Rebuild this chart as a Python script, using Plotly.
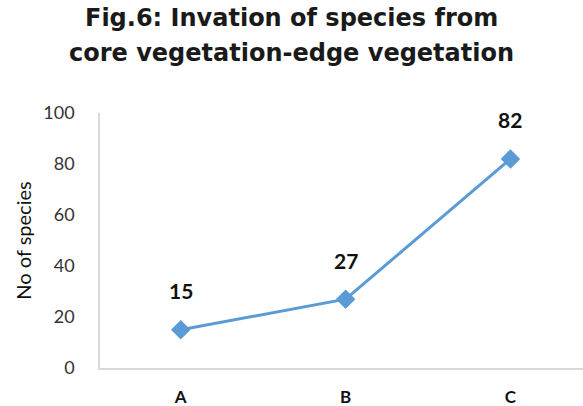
import plotly.graph_objects as go

categories = ["A", "B", "C"]
species = [15, 27, 82]
y_ticks = [0, 20, 40, 60, 80, 100]
title_line1 = "Fig.6: Invation of species from"
title_line2 = "core vegetation-edge vegetation"
y_title = "No of species"

blue = "#5B9BD5"

fig = go.Figure()
fig.add_trace(go.Scatter(
    x=categories, y=species, mode="lines+markers",
    line=dict(color=blue, width=3),
    marker=dict(symbol="diamond", size=15, color=blue),
    showlegend=False, cliponaxis=False,
))

for c, v in zip(categories, species):
    fig.add_annotation(x=c, y=v, text=str(v), showarrow=False, yshift=39,
                       font=dict(family="Lato", size=21, color="#111111", weight="bold"))

PLOT_TOP, PLOT_BOT = 113, 368
H = PLOT_BOT - PLOT_TOP
def py(pix):
    return (PLOT_BOT - pix) / H

fig.add_annotation(xref="paper", yref="paper", x=0.396, y=py(18), text=title_line1,
                   showarrow=False, xanchor="center", yanchor="middle",
                   font=dict(family="DejaVu Sans", size=24, color="#1a1a1a", weight="bold"))
fig.add_annotation(xref="paper", yref="paper", x=0.396, y=py(53), text=title_line2,
                   showarrow=False, xanchor="center", yanchor="middle",
                   font=dict(family="DejaVu Sans", size=24, color="#1a1a1a", weight="bold"))

fig.update_layout(
    width=583, height=406,
    margin=dict(l=100, r=0, t=PLOT_TOP, b=406 - PLOT_BOT, autoexpand=False),
    paper_bgcolor="white", plot_bgcolor="white",
    xaxis=dict(type="category", range=[-0.49, 2.44], showgrid=False, zeroline=False,
               showline=True, linecolor="#D9D9D9", linewidth=1.5, ticks="",
               automargin=False, ticklabelstandoff=13,
               tickfont=dict(family="Lato", size=17, color="#111111", weight="bold")),
    yaxis=dict(range=[0, 100], tickvals=y_ticks, showgrid=False, zeroline=False,
               showline=True, linecolor="#D9D9D9", linewidth=1.5, ticks="",
               automargin=False, ticklabelstandoff=20,
               tickfont=dict(family="Lato", size=18, color="#333333"),
               title=dict(text=y_title, standoff=6,
                          font=dict(family="Lato", size=20, color="#111111"))),
)

fig.write_html("out.html", config={"displayModeBar": False},
               post_script="document.body.style.margin='0';document.body.style.overflow='hidden';")
